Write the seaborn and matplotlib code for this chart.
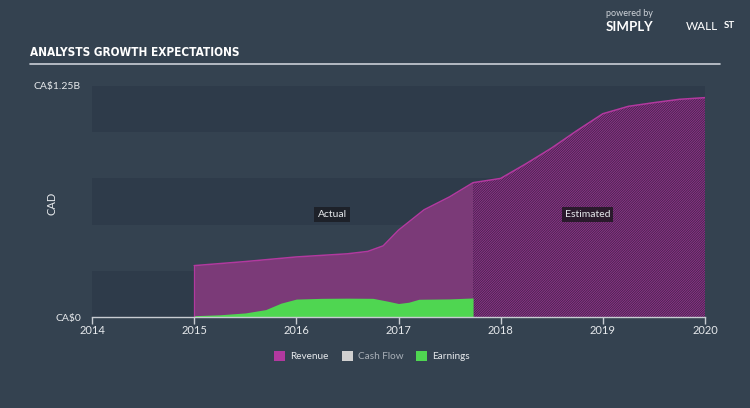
import matplotlib
matplotlib.use("Agg")
import matplotlib.pyplot as plt
from matplotlib import font_manager
import seaborn as sns
import pandas as pd

# ---- data (CA$ billions, decimal years) ----
rev_actual_x = [2015.0, 2015.5, 2016.0, 2016.5, 2016.7, 2016.85, 2017.0, 2017.25, 2017.5, 2017.73]
rev_actual_y = [0.278, 0.300, 0.325, 0.342, 0.355, 0.385, 0.470, 0.580, 0.650, 0.727]
rev_est_x = [2017.73, 2018.0, 2018.25, 2018.5, 2018.75, 2019.0, 2019.25, 2019.5, 2019.75, 2020.0]
rev_est_y = [0.727, 0.750, 0.830, 0.915, 1.010, 1.100, 1.140, 1.160, 1.178, 1.187]
earn_x = [2015.0, 2015.25, 2015.5, 2015.7, 2015.85, 2016.0, 2016.25, 2016.5, 2016.75, 2016.9, 2017.0, 2017.1, 2017.2, 2017.5, 2017.73]
earn_y = [0.007, 0.012, 0.022, 0.040, 0.075, 0.097, 0.101, 0.102, 0.101, 0.085, 0.073, 0.080, 0.096, 0.098, 0.103]
year_ticks = [2014, 2015, 2016, 2017, 2018, 2019, 2020]
y_ticks = [0, 1.25]
y_tick_labels = ["CA$0", "CA$1.25B"]
legend_labels = ["Revenue", "Cash Flow", "Earnings"]

BG = "#344250"
BAND = "#2e3b4a"
MAG = "#b2399f"
MAG_FILL = "#7b3a78"
GREEN = "#4fd651"
TXT = "#e6e9ec"

sns.set_theme(style="white")
plt.rcParams["font.family"] = ["Lato", "DejaVu Sans"]
plt.rcParams["hatch.linewidth"] = 0.6
plt.rcParams["hatch.color"] = "#97308c"

names = {f.name for f in font_manager.fontManager.ttflist}
if "Liberation Sans Narrow" in names:
    title_kw = dict(family=["Liberation Sans Narrow", "DejaVu Sans"], fontsize=9.5)
else:
    title_kw = dict(family=["DejaVu Sans"], fontstretch="condensed", fontsize=8.5)

fig = plt.figure(figsize=(7.5, 4.08), dpi=100, facecolor=BG)
ax = fig.add_axes([92/750, (408-317)/408, (705-92)/750, (317-86)/408])
ax.set_facecolor(BG)

# horizontal bands
for lo in [0.0, 0.5, 1.0]:
    ax.axhspan(lo, lo + 0.25, color=BAND, zorder=0, lw=0)

# revenue actual
ax.fill_between(rev_actual_x, 0, rev_actual_y, color=MAG_FILL, lw=0, zorder=2)
# revenue estimated (hatched)
ax.fill_between(rev_est_x, 0, rev_est_y, facecolor="#40284c", edgecolor="#97308c",
                hatch="/" * 14, lw=0, zorder=2)
# earnings
ax.fill_between(earn_x, 0, earn_y, color=GREEN, lw=0, zorder=3)

df_rev = pd.DataFrame({"x": rev_actual_x + rev_est_x[1:], "y": rev_actual_y + rev_est_y[1:]})
sns.lineplot(data=df_rev, x="x", y="y", ax=ax, color=MAG, lw=1.1, zorder=4)
ax.plot([rev_actual_x[0], rev_actual_x[0]], [0, rev_actual_y[0]], color=MAG, lw=0.9, zorder=4)

ax.set_xlim(2014, 2020)
ax.set_ylim(0, 1.25)
ax.set_xticks(year_ticks)
ax.set_xticklabels([str(y) for y in year_ticks], color=TXT, fontsize=8)
ax.set_yticks(y_ticks)
ax.set_yticklabels(y_tick_labels, color=TXT, fontsize=7.5)
ax.tick_params(axis="x", length=5, width=1, color="#c8ccd2", pad=1, bottom=True)
ax.tick_params(axis="y", length=0, pad=8)
ax.set_xlabel("")
ax.set_ylabel("CAD", color=TXT, fontsize=8)
ax.yaxis.set_label_coords((57-92)/613, 0.49)
for s in ["top", "right", "left"]:
    ax.spines[s].set_visible(False)
ax.spines["bottom"].set_color("#c8ccd2")
ax.spines["bottom"].set_linewidth(1)
ax.spines["bottom"].set_zorder(5)

# labels
ax.text(2016.35, 0.555, "Actual", color=TXT, fontsize=7.5, ha="center", va="center", zorder=6,
        bbox=dict(boxstyle="square,pad=0.3", fc="#1d2129", ec="none"))
ax.text(2018.85, 0.555, "Estimated", color=TXT, fontsize=7.5, ha="center", va="center", zorder=6,
        bbox=dict(boxstyle="square,pad=0.3", fc="#2a1a2c", ec="none"))

# title + rule
fig.text(30/750, 1 - 53/408, "ANALYSTS GROWTH EXPECTATIONS", color="white",
         fontweight="bold", va="center", ha="left", **title_kw)
fig.add_artist(plt.Line2D([30/750, 720/750], [1 - 64/408, 1 - 64/408], color="#c9ced6", lw=1.2))

# branding
fig.text(606/750, 1 - 14/408, "powered by", color="#cfd4da", fontsize=6.5, va="center", ha="left")
fig.text(606/750, 1 - 27/408, "SIMPLY", color="white", fontsize=9.5, fontweight="bold", va="center", ha="left")
fig.text(686/750, 1 - 27/408, "WALL", color="white", fontsize=8.5, va="center", ha="left")
fig.text(724/750, 1 - 26/408, "ST", color="white", fontsize=7, fontweight="bold", va="center", ha="left")

# legend
handles = [plt.Rectangle((0, 0), 1, 1, fc=MAG, ec="none"),
           plt.Rectangle((0, 0), 1, 1, fc="#d0d0d0", ec="none"),
           plt.Rectangle((0, 0), 1, 1, fc=GREEN, ec="none")]
leg = fig.legend(handles, legend_labels, loc="center", bbox_to_anchor=(372/750, 1 - 356/408), ncol=3,
                 frameon=False, fontsize=7.2, handlelength=1.1, handleheight=1.1, columnspacing=1.3,
                 handletextpad=0.5)
cols = [TXT, "#a9b0b8", TXT]
for t, c in zip(leg.get_texts(), cols):
    t.set_color(c)

fig.savefig("out.png", dpi=100, facecolor=BG)
